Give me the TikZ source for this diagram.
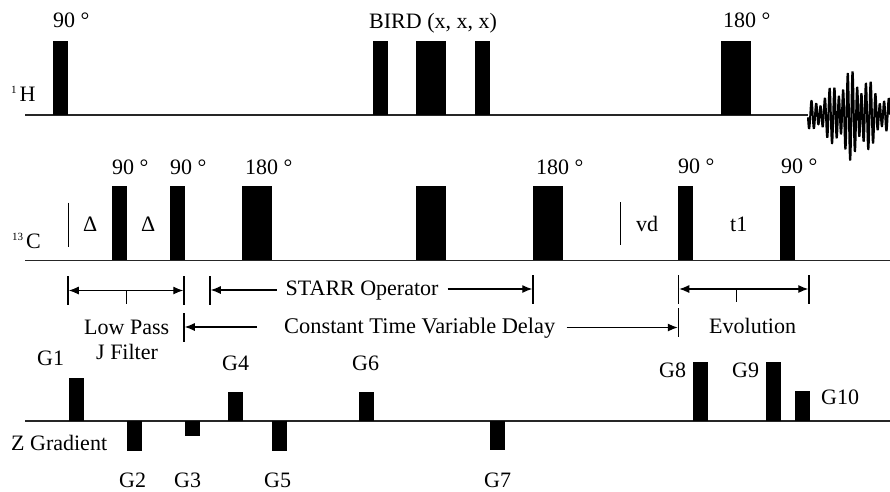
\documentclass[tikz,border=0pt]{standalone}
\usepackage{fontspec}
\setmainfont{Liberation Serif}
\usepackage{tikz}
\usetikzlibrary{arrows.meta,calc}
\newcommand{\isotope}[1]{{\fontsize{11}{11}\selectfont\raisebox{7.5pt}{#1}}\hspace{3pt}}

\begin{document}
\begin{tikzpicture}[x=1pt,y=-1pt]
    \tikzset{
      lbl/.style={font=\fontsize{22}{24}\selectfont,inner sep=0pt,anchor=base west},
      dimlbl/.style={lbl,inner xsep=9pt},
      pulse/.style={fill=black,inner sep=0pt,anchor=south west,minimum width=15pt,minimum height=74pt},
      widepulse/.style={pulse,minimum width=30pt},
      gradup/.style={fill=black,inner sep=0pt,anchor=south west,minimum width=15pt},
      graddown/.style={gradup,anchor=north west},
      tick/.style={fill=black,inner sep=0pt,minimum width=1.1pt,minimum height=29pt},
      midtick/.style={tick,anchor=north,minimum height=13pt},
      axisline/.style={line width=1.3pt,draw=black!85},
      vline/.style={line width=1pt,draw=black},
      dim/.style={line width=1.1pt,{Latex[length=10pt,width=8pt]}-{Latex[length=10pt,width=8pt]}},
      dimr/.style={line width=1.1pt,-{Latex[length=10pt,width=8pt]}}
    }
    \useasboundingbox (0,0) rectangle (890,491);
    % proton channel
    \coordinate (hstart) at (25,115);
    \coordinate (hend) at (808,115);
    \draw[axisline] (hstart) -- (hend);
    \node[lbl] (hname) at (11,101) {\isotope{1}H};
    \node[pulse] (h90) at (53,115) {};
    \node[pulse] (bird1) at (373,115) {};
    \node[widepulse] (bird2) at (416,115) {};
    \node[pulse] (bird3) at (475,115) {};
    \node[widepulse] (h180) at (721,115) {};
    \node[lbl] (h90lbl) at (53,27.5) {90 °};
    \node[lbl] (birdlbl) at (369,28) {BIRD (x, x, x)};
    \node[lbl] (h180lbl) at (723,27) {180 °};
    \draw[line width=2pt,line join=bevel] plot[domain=0:82,samples=320]
      ({808+\x},{115+(12+34*exp(0-((\x-45)/26)*((\x-45)/26)))*(0.74*sin(79*\x)+0.26*sin(61*\x+40))});
    % carbon channel
    \coordinate (cstart) at (25,260.5);
    \coordinate (cend) at (890,260.5);
    \draw[axisline] (cstart) -- (cend);
    \node[lbl] (cname) at (12,248) {\isotope{13}C};
    \node[pulse] (c90a) at (112,260.5) {};
    \node[pulse] (c90b) at (170,260.5) {};
    \node[widepulse] (c180a) at (242,260.5) {};
    \node[widepulse] (c180b) at (416,260.5) {};
    \node[widepulse] (c180c) at (533,260.5) {};
    \node[pulse] (c90c) at (678,260.5) {};
    \node[pulse] (c90d) at (780,260.5) {};
    \node[lbl] (c90albl) at (112,174) {90 °};
    \node[lbl] (c90blbl) at (170,174) {90 °};
    \node[lbl] (c180albl) at (245,174) {180 °};
    \node[lbl] (c180clbl) at (536,174) {180 °};
    \node[lbl] (c90clbl) at (678,173) {90 °};
    \node[lbl] (c90dlbl) at (781,173) {90 °};
    \coordinate (delayt) at (68.5,202.5);
    \coordinate (delayb) at (68.5,247);
    \draw[vline] (delayt) -- (delayb);
    \coordinate (vdt) at (620.5,202);
    \coordinate (vdb) at (620.5,245);
    \draw[vline] (vdt) -- (vdb);
    \node[lbl] (delaya) at (83,231.5) {Δ};
    \node[lbl] (delayc) at (141,231.5) {Δ};
    \node[lbl] (vd) at (636,231.5) {vd};
    \node[lbl] (t1) at (730,231.5) {t1};
    % timing brackets
    \node[tick] (lpl) at (68,290.5) {};
    \node[tick] (lpr) at (184,290.5) {};
    \node[midtick] (lpm) at (126.5,291) {};
    \draw[dim] (lpl) -- (lpr);
    \node[lbl] (lowpass) at (84,334) {Low Pass};
    \node[lbl] (jfilter) at (96,359) {J Filter};
    \node[tick] (starrl) at (210,290) {};
    \node[tick] (starrr) at (533,289) {};
    \node[dimlbl] (starr) at (276.5,295.5) {STARR Operator};
    \draw[dimr] (starrl -| starr.west) -- (starrl);
    \draw[dimr] (starrr -| starr.east) -- (starrr);
    \node[tick] (ctl) at (184,327) {};
    \node[tick] (ctr) at (678.5,322) {};
    \node[dimlbl,inner xsep=27pt,font=\fontsize{22.4}{24}\selectfont] (ctime) at (257,333.5) {Constant Time Variable Delay};
    \coordinate (ctfree) at (566.5,327.5);
    \draw[dimr] (ctl -| ctime.west) -- (ctl);
    \draw[dimr] (ctfree) -- (ctfree -| ctr.west);
    \node[tick] (evl) at (678.5,289) {};
    \node[tick] (evr) at (809,289) {};
    \node[midtick] (evm) at (736.5,289) {};
    \draw[dim] (evl) -- (evr);
    \node[lbl] (evolution) at (709,333) {Evolution};
    % gradient channel
    \coordinate (zstart) at (25,421);
    \coordinate (zend) at (890,421);
    \draw[axisline] (zstart) -- (zend);
    \node[lbl] (zname) at (11,450.5) {Z Gradient};
    \node[gradup,minimum height=43pt] (g1) at (68.5,421) {};
    \node[graddown,minimum height=30pt] (g2) at (126.5,421) {};
    \node[graddown,minimum height=15pt] (g3) at (184.5,421) {};
    \node[gradup,minimum height=29pt] (g4) at (228,421) {};
    \node[graddown,minimum height=30pt] (g5) at (272,421) {};
    \node[gradup,minimum height=29pt] (g6) at (359,421) {};
    \node[graddown,minimum height=29pt] (g7) at (490,421) {};
    \node[gradup,minimum height=59pt] (g8) at (693,421) {};
    \node[gradup,minimum height=59pt] (g9) at (766,421) {};
    \node[gradup,minimum height=30pt] (g10) at (795,421) {};
    \node[lbl] (g1lbl) at (37,365.5) {G1};
    \node[lbl] (g2lbl) at (119,487) {G2};
    \node[lbl] (g3lbl) at (174,487) {G3};
    \node[lbl] (g4lbl) at (222,370) {G4};
    \node[lbl] (g5lbl) at (264,487) {G5};
    \node[lbl] (g6lbl) at (352,370) {G6};
    \node[lbl] (g7lbl) at (484,487) {G7};
    \node[lbl] (g8lbl) at (659,377) {G8};
    \node[lbl] (g9lbl) at (732,377) {G9};
    \node[lbl] (g10lbl) at (821,404) {G10};
  \end{tikzpicture}
\end{document}
